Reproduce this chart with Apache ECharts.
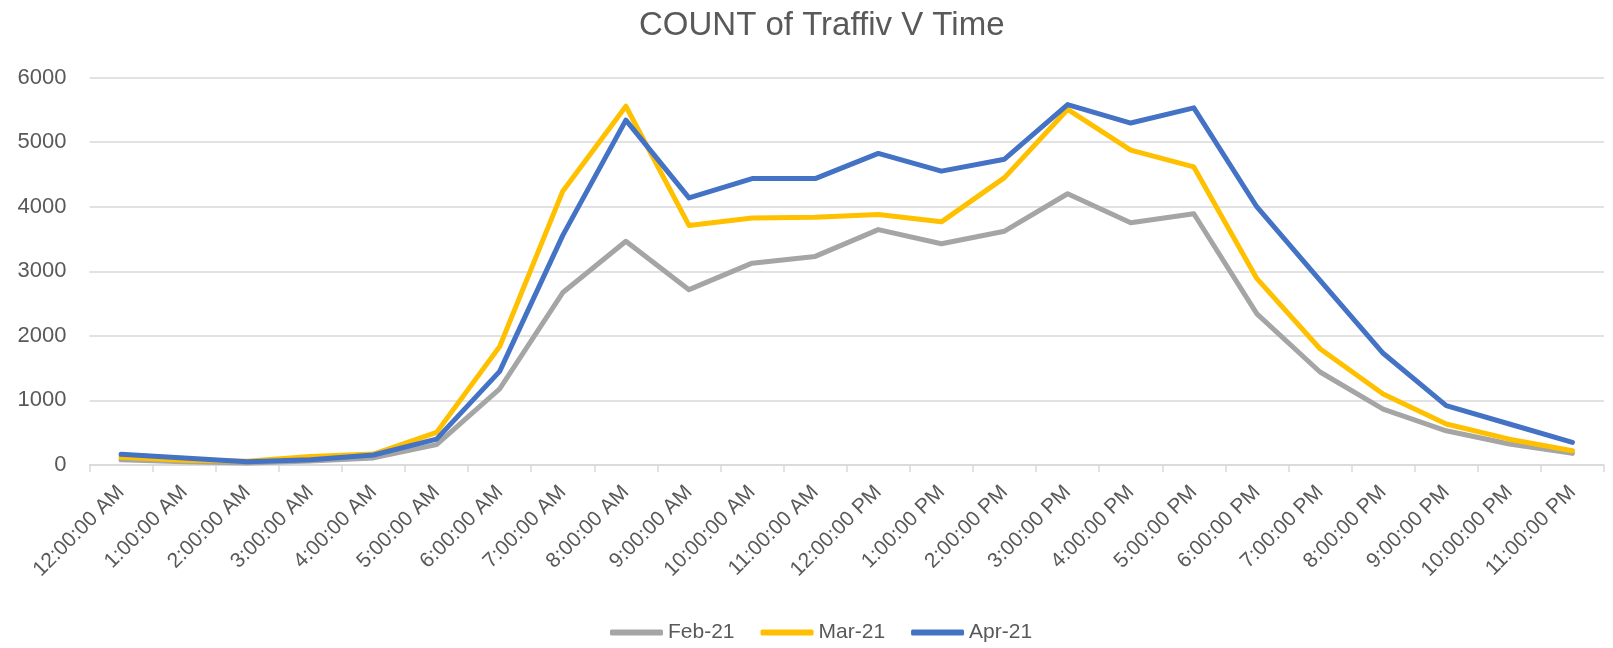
<!DOCTYPE html>
<html>
<head>
<meta charset="utf-8">
<script src="https://cdn.jsdelivr.net/npm/echarts@6/dist/echarts.min.js"></script>
<style>
  html, body { margin: 0; padding: 0; background: #fff; }
  #chart { width: 1613px; height: 648px; }
</style>
</head>
<body>
<div id="chart"></div>
<script>
const hours = ['12:00:00 AM', '1:00:00 AM', '2:00:00 AM', '3:00:00 AM', '4:00:00 AM', '5:00:00 AM',
  '6:00:00 AM', '7:00:00 AM', '8:00:00 AM', '9:00:00 AM', '10:00:00 AM', '11:00:00 AM',
  '12:00:00 PM', '1:00:00 PM', '2:00:00 PM', '3:00:00 PM', '4:00:00 PM', '5:00:00 PM',
  '6:00:00 PM', '7:00:00 PM', '8:00:00 PM', '9:00:00 PM', '10:00:00 PM', '11:00:00 PM'];

const feb21 = [80, 50, 30, 60, 110, 315, 1180, 2670, 3465, 2715, 3125, 3230,
  3645, 3425, 3620, 4200, 3750, 3890, 2340, 1440, 865, 530, 325, 180];
const mar21 = [120, 75, 60, 130, 170, 505, 1835, 4240, 5555, 3710, 3825, 3835,
  3880, 3765, 4450, 5505, 4875, 4615, 2885, 1800, 1100, 635, 400, 220];
const apr21 = [165, 110, 50, 80, 155, 400, 1450, 3555, 5340, 4135, 4435, 4435,
  4825, 4550, 4735, 5580, 5295, 5530, 3995, 2860, 1730, 920, 635, 350];

const seriesNames = ['Feb-21', 'Mar-21', 'Apr-21'];
const seriesColors = ['#a5a5a5', '#ffc000', '#4472c4'];

const font = 'Liberation Sans';
const textColor = '#595959';

const makeLine = (name, data, color) => ({
  name: name,
  type: 'line',
  data: data,
  symbol: 'none',
  lineStyle: { color: color, width: 5, join: 'round', cap: 'round' },
  itemStyle: { color: color }
});

const chart = echarts.init(document.getElementById('chart'));
chart.setOption({
  animation: false,
  backgroundColor: '#ffffff',
  title: {
    text: 'COUNT of Traffiv V Time',
    left: 634,
    top: 4,
    textStyle: { fontFamily: font, fontSize: 33, fontWeight: 'normal', color: textColor }
  },
  legend: {
    data: seriesNames,
    left: 605,
    top: 617,
    icon: 'roundRect',
    itemWidth: 53,
    itemHeight: 6,
    itemGap: 26,
    textStyle: { fontFamily: font, fontSize: 21, color: textColor }
  },
  grid: { left: 89.5, right: 9, top: 77.5, bottom: 183 },
  xAxis: {
    type: 'category',
    data: hours,
    boundaryGap: true,
    axisLine: { lineStyle: { color: '#d9d9d9', width: 1.5 } },
    axisTick: { show: true, length: 7, lineStyle: { color: '#d9d9d9', width: 1.5 } },
    axisLabel: {
      interval: 0,
      rotate: 45,
      margin: 24,
      fontFamily: font,
      fontSize: 21,
      color: textColor
    }
  },
  yAxis: {
    type: 'value',
    min: 0,
    max: 6000,
    interval: 1000,
    axisLine: { show: false },
    axisTick: { show: false },
    splitLine: { lineStyle: { color: '#d9d9d9', width: 1.5 } },
    axisLabel: {
      margin: 23,
      fontFamily: font,
      fontSize: 22,
      color: textColor,
      formatter: (v) => String(v)
    }
  },
  series: [
    makeLine(seriesNames[0], feb21, seriesColors[0]),
    makeLine(seriesNames[1], mar21, seriesColors[1]),
    makeLine(seriesNames[2], apr21, seriesColors[2])
  ]
});
</script>
</body>
</html>
